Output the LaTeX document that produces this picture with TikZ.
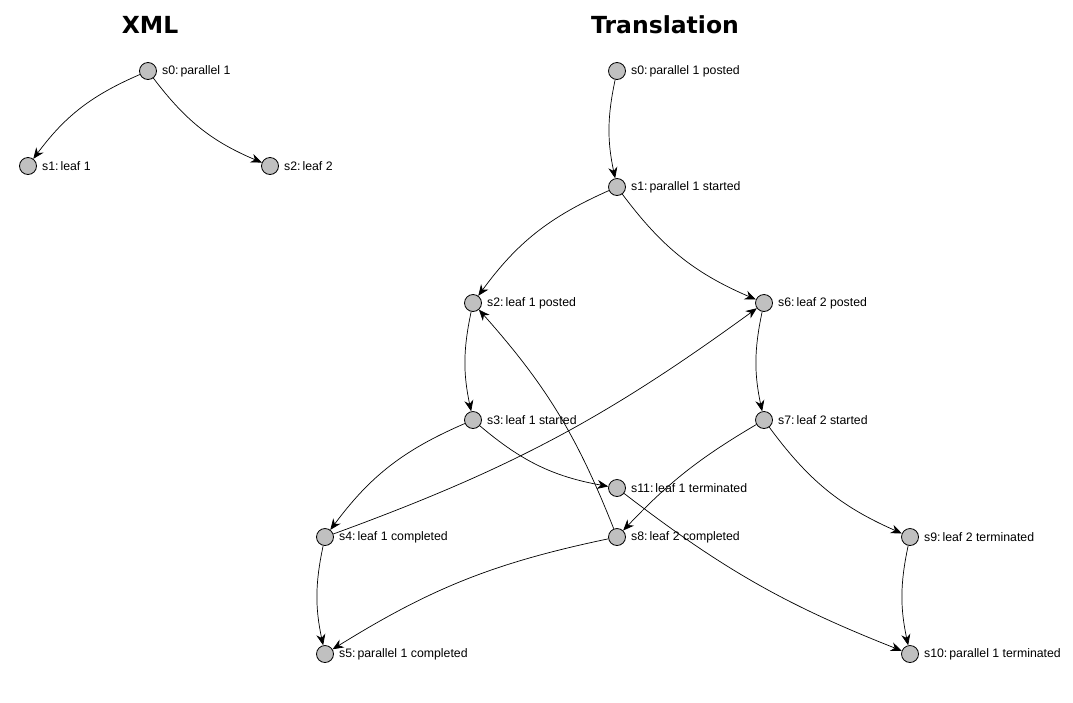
\documentclass[tikz,border=0pt]{standalone}
\usepackage{fontspec}
\setmainfont{Liberation Sans}
\newfontfamily\titlefont{DejaVu Sans}
\usetikzlibrary{arrows.meta}
\definecolor{stgray}{RGB}{192,192,192}
\newcommand\stt[4]{\node[st] (#1) at (#2,#3) {}; \node[lbl] (#1l) at ([xshift=5pt]#1.east) {#4};}
\begin{document}
\begin{tikzpicture}[x=1pt,y=-1pt,
 st/.style={circle,draw=black,fill=stgray,line width=0.8pt,minimum size=17pt,inner sep=0pt},
 lbl/.style={anchor=west,font=\fontsize{12.3}{14}\selectfont,inner sep=0pt},
 edge/.style={-{Stealth[length=11pt,width=9pt,inset=3.5pt]},line width=0.7pt},
 ttl/.style={font=\titlefont\bfseries\fontsize{23.5}{28}\selectfont,inner sep=0pt}]
\useasboundingbox (0,0) rectangle (1073,702);
\node[ttl] (tx) at (150,25) {XML};
\node[ttl] (tt) at (665,25) {Translation};
% XML
\stt{x0}{148}{71}{s0:\,parallel 1}
\stt{x1}{28}{166}{s1:\,leaf 1}
\stt{x2}{270}{166}{s2:\,leaf 2}
% Translation
\stt{t0}{617}{71}{s0:\,parallel 1 posted}
\stt{t1}{617}{187}{s1:\,parallel 1 started}
\stt{t2}{473}{303}{s2:\,leaf 1 posted}
\stt{t6}{764}{303}{s6:\,leaf 2 posted}
\stt{t3}{473}{420}{s3:\,leaf 1 started}
\stt{t7}{764}{420}{s7:\,leaf 2 started}
\stt{t11}{617}{488}{s11:\,leaf 1 terminated}
\stt{t4}{325}{537}{s4:\,leaf 1 completed}
\stt{t8}{617}{537}{s8:\,leaf 2 completed}
\stt{t9}{910}{537}{s9:\,leaf 2 terminated}
\stt{t5}{325}{654}{s5:\,parallel 1 completed}
\stt{t10}{910}{654}{s10:\,parallel 1 terminated}
% edges
\draw[edge] (x0) to[bend right=15] (x1);
\draw[edge] (x0) to[bend right=15] (x2);
\draw[edge] (t0) to[bend right=12] (t1);
\draw[edge] (t1) to[bend right=15] (t2);
\draw[edge] (t1) to[bend right=15] (t6);
\draw[edge] (t2) to[bend right=12] (t3);
\draw[edge] (t6) to[bend right=12] (t7);
\draw[edge] (t3) to[bend right=15] (t4);
\draw[edge] (t3) to[bend right=15] (t11);
\draw[edge] (t4) to[bend right=8] (t6);
\draw[edge] (t8) to[bend right=10] (t2);
\draw[edge] (t7) to[bend right=8] (t8);
\draw[edge] (t7) to[bend right=15] (t9);
\draw[edge] (t11) to[bend right=8] (t10);
\draw[edge] (t9) to[bend right=12] (t10);
\draw[edge] (t4) to[bend right=12] (t5);
\draw[edge] (t8) to[bend right=10] (t5);
\end{tikzpicture}
\end{document}
